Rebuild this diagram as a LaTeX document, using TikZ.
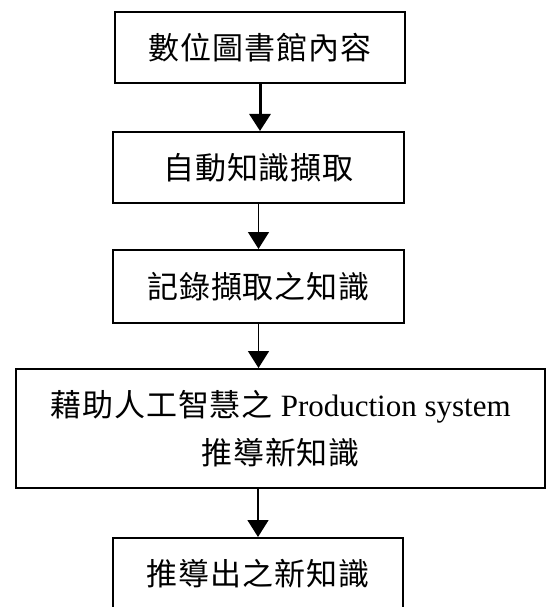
\documentclass[tikz,border=0pt]{standalone}
\usepackage{fontspec}
\setmainfont{Liberation Serif}
\newfontfamily\cjk[LetterSpace=3]{Noto Sans CJK TC}
\usetikzlibrary{arrows.meta}
\begin{document}
\begin{tikzpicture}[x=1pt,y=-1pt,
  box/.style={draw, line width=2pt, inner sep=0pt, align=center,
    font=\cjk\fontsize{31}{48}\selectfont},
  arr/.style={-{Triangle[width=21pt,length=17pt]}, line width=1.6pt}]
\useasboundingbox (0,0) rectangle (548,607);
\node[box, minimum width=290pt, minimum height=71pt] (b1) at (260,47.5) {數位圖書館內容};
\node[box, minimum width=291pt, minimum height=71pt] (b2) at (258.5,167.5) {自動知識擷取};
\node[box, minimum width=291pt, minimum height=73pt] (b3) at (258.5,286.5) {記錄擷取之知識};
\node[box, minimum width=529pt, minimum height=119pt] (b4) at (280.5,428.5)
  {藉助人工智慧之 {\rmfamily Production system}\\推導新知識};
\node[box, minimum width=290pt, minimum height=71pt] (b5) at (258,573.5) {推導出之新知識};
\draw[arr, line width=3pt] (b1.south) -- (b1.south |- b2.north);
\draw[arr] (b2.south) -- (b2.south |- b3.north);
\draw[arr] (b3.south) -- (b3.south |- b4.north);
\draw[arr] (b5.north |- b4.south) -- (b5.north);
\end{tikzpicture}
\end{document}
